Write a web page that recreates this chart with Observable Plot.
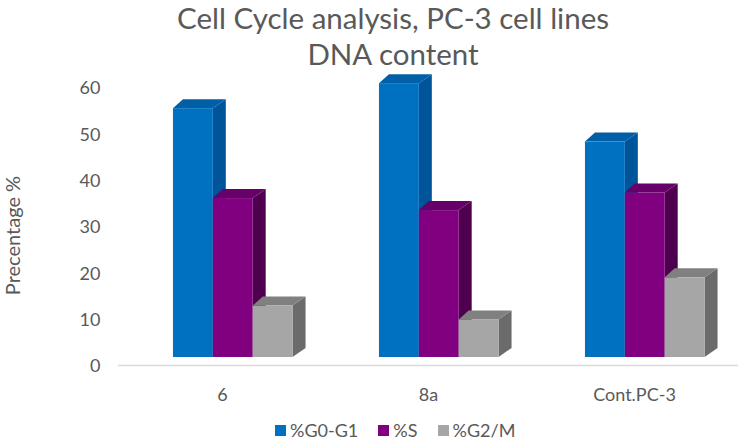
<!DOCTYPE html>
<html>
<head>
<meta charset="utf-8">
<script src="https://cdn.jsdelivr.net/npm/d3@7"></script>
<script src="https://cdn.jsdelivr.net/npm/@observablehq/plot@0.6"></script>
<style>
  html, body { margin: 0; padding: 0; background: #fff; }
  #wrap { position: relative; width: 742px; height: 446px; overflow: hidden; font-family: Lato, "Open Sans", sans-serif; color: #595959; }
  #title { position: absolute; left: 0; top: 0; width: 786px; text-align: center; font-size: 29.5px; }
  #title div { line-height: 36px; height: 36px; }
  #chart { position: absolute; left: 0; top: 72px; }
  #legend { position: absolute; left: 275px; top: 418px; display: flex; align-items: center; font-size: 18px; line-height: 24px; }
  .item { display: flex; align-items: center; margin-right: 20px; }
  .sw { width: 11px; height: 11px; margin-right: 4px; }
</style>
</head>
<body>
<div id="wrap">
  <div id="title"><div class="l1">Cell Cycle analysis, PC-3 cell lines</div><div class="l2">DNA content</div></div>
  <div id="chart"></div>
  <div id="legend"></div>
</div>
<script>
// ---- data ----
const categories = ["6", "8a", "Cont.PC-3"];
const seriesNames = ["%G0-G1", "%S", "%G2/M"];
const g0g1 = [53.7, 59.1, 46.5];
const sPhase = [34.3, 31.7, 35.5];
const g2m = [11.1, 8.1, 17.2];
const yTicks = [0, 10, 20, 30, 40, 50, 60];
const yLabel = "Precentage %";

// ---- styles ----
const frontColors = ["#0070C0", "#800080", "#A6A6A6"];
const topColors = ["#005FA6", "#68006A", "#808080"];
const sideColors = ["#00559A", "#4E004E", "#6B6B6B"];

const seriesValues = [g0g1, sPhase, g2m];
const data = categories.flatMap((cat, i) =>
  seriesNames.map((s, j) => ({cat, series: s, j, value: seriesValues[j][i]}))
);

function bars3d(index, scales, values, dims) {
  const x = scales.x, y = scales.y;
  const bw = x.bandwidth ? x.bandwidth() : (dims.width - dims.marginLeft - dims.marginRight) / categories.length;
  const offFrac = 0.262, barFrac = 0.1935;
  const dL = 10, dR = 13, dD = 9;
  const g = d3.create("svg:g");
  for (const i of index) {
    const d = data[i];
    const x0 = x(d.cat) + bw * offFrac + d.j * bw * barFrac;
    const x1 = x0 + bw * barFrac;
    const yt = y(d.value), yb = y(0);
    g.append("polygon")
      .attr("points", [[x1, yt], [x1 + dR, yt - dD], [x1 + dR, yb - dD], [x1, yb]].join(" "))
      .attr("fill", sideColors[d.j]);
    g.append("polygon")
      .attr("points", [[x0, yt], [x0 + dL, yt - dD], [x1 + dR, yt - dD], [x1, yt]].join(" "))
      .attr("fill", topColors[d.j]);
    g.append("rect")
      .attr("x", x0).attr("y", yt).attr("width", x1 - x0).attr("height", yb - yt)
      .attr("fill", frontColors[d.j]);
  }
  return g.node();
}

const plot = Plot.plot({
  width: 742,
  height: 346,
  marginLeft: 118,
  marginRight: 4,
  marginTop: 7,
  marginBottom: 61,
  style: {fontFamily: "Lato, 'Open Sans', sans-serif", fontSize: "18px", color: "#595959", background: "transparent"},
  x: {domain: categories, padding: 0, label: null},
  y: {domain: [0, 60], label: null},
  marks: [
    Plot.ruleY([0], {stroke: "#D9D9D9", strokeWidth: 1.5, dy: 8}),
    Plot.axisY({ticks: yTicks, tickSize: 0, tickPadding: 18, dy: 9, label: null, fontSize: 18}),
    Plot.axisX({tickSize: 0, tickPadding: 31, label: null, fontSize: 18}),
    Plot.rectY(data, {x: "cat", y: "value", fill: d => frontColors[d.j], render: bars3d}),
    Plot.text([yLabel], {frameAnchor: "left", textAnchor: "middle", rotate: -90, dx: -105, dy: 17, fontSize: 20, fill: "#595959"})
  ]
});
document.getElementById("chart").appendChild(plot);

const legend = document.getElementById("legend");
seriesNames.forEach((name, j) => {
  const it = document.createElement("div");
  it.className = "item";
  const sw = document.createElement("div");
  sw.className = "sw";
  sw.style.background = frontColors[j];
  const t = document.createElement("span");
  t.textContent = name;
  it.appendChild(sw); it.appendChild(t);
  legend.appendChild(it);
});
</script>
</body>
</html>
